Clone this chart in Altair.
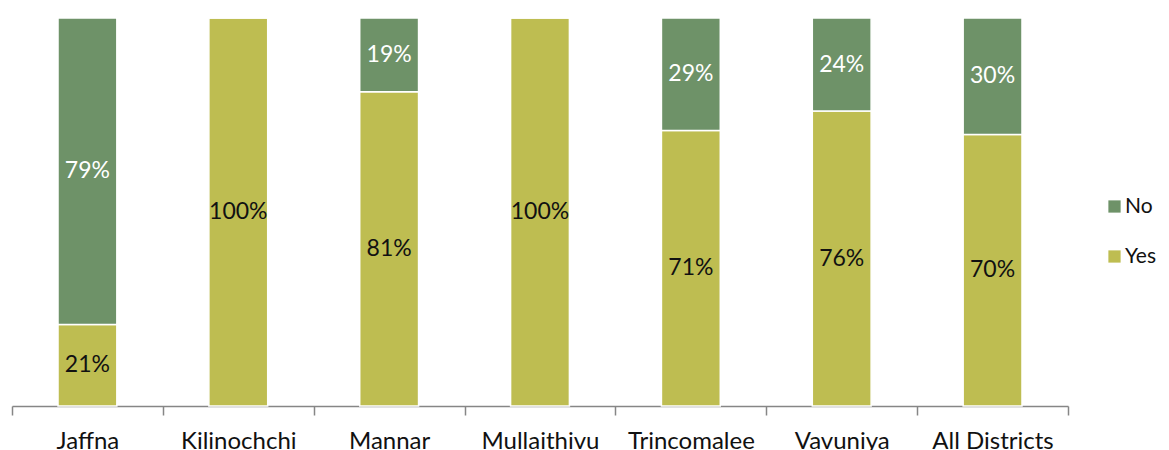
import altair as alt
import pandas as pd

districts = ["Jaffna", "Kilinochchi", "Mannar", "Mullaithivu", "Trincomalee", "Vavuniya", "All Districts"]
yes_vals = [21, 100, 81, 100, 71, 76, 70]
no_vals = [79, 0, 19, 0, 29, 24, 30]

rows = []
for d, y, n in zip(districts, yes_vals, no_vals):
    rows.append({"district": d, "answer": "Yes", "value": y, "ord": 0})
    rows.append({"district": d, "answer": "No", "value": n, "ord": 1})
df = pd.DataFrame(rows)

FONT = "Lato"
W, H = 1056, 388

base = alt.Chart(df).transform_stack(
    stack="value", as_=["y0", "y1"], groupby=["district"],
    sort=[alt.SortField("ord", order="ascending")]
).transform_calculate(
    mid="(datum.y0 + datum.y1) / 2",
    lab="datum.value + '%'"
)

xscale = alt.Scale(paddingInner=0, paddingOuter=0)
xenc = alt.X("district:N", sort=districts, title=None, scale=xscale,
             axis=alt.Axis(labelAngle=0, tickBand="extent", domainColor="#868686",
                           tickColor="#868686", domainWidth=1.5, tickWidth=1.5, tickSize=9,
                           labelFont=FONT, labelFontSize=24, labelColor="#111111",
                           labelBaseline="alphabetic", labelPadding=33, grid=False))

yscale = alt.Scale(domain=[0, 100], nice=False)

bars = base.mark_bar(stroke="white", strokeWidth=1.5, width=alt.RelativeBandSize(0.39)).encode(
    x=xenc,
    y=alt.Y("y0:Q", scale=yscale, axis=None),
    y2="y1:Q",
    color=alt.Color("answer:N", scale=alt.Scale(domain=["No", "Yes"], range=["#6E9268", "#BEBD51"]),
                    legend=alt.Legend(title=None, orient="none", legendX=1092, legendY=178,
                                      symbolType="square", symbolSize=150, symbolStrokeWidth=0,
                                      labelFont=FONT, labelFontSize=21, labelColor="#111111",
                                      labelOffset=0, rowPadding=28)),
)

texts = base.transform_filter("datum.value > 0").mark_text(font=FONT, fontSize=23, baseline="middle").encode(
    x=alt.X("district:N", sort=districts, scale=xscale),
    y=alt.Y("mid:Q", scale=yscale),
    text="lab:N",
    color=alt.condition(alt.datum.answer == "No", alt.value("white"), alt.value("#111111")),
)

chart = alt.layer(bars, texts).properties(
    width=W, height=H,
    autosize=alt.AutoSizeParams(type="none"),
    padding={"left": 4, "top": 10, "right": 93, "bottom": 44},
).configure_view(stroke=None)

chart.save("out.html", embed_options={"renderer": "svg", "actions": False})
